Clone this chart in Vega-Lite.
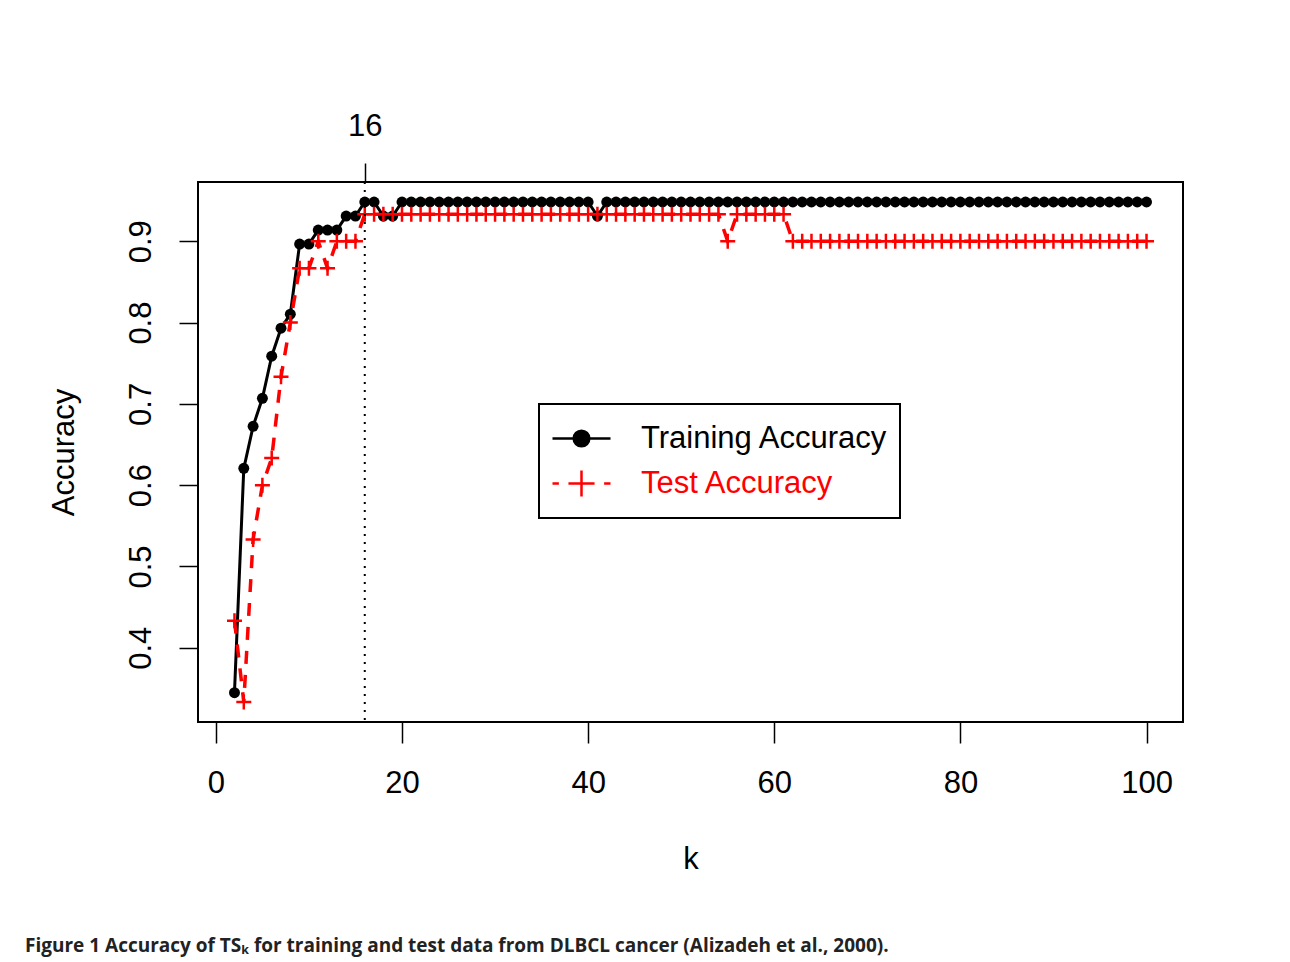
{
  "$schema": "https://vega.github.io/schema/vega-lite/v6.json",
  "width": 985,
  "height": 540,
  "autosize": {"type": "none"},
  "padding": {"left": 198, "top": 182, "right": 107, "bottom": 240},
  "background": "white",
  "config": {
    "font": "Liberation Sans",
    "view": {"stroke": "black", "strokeWidth": 2},
    "axis": {"grid": false, "domain": false, "tickColor": "black", "tickWidth": 1.5, "labelColor": "black", "titleColor": "black", "labelFontSize": 31, "titleFontSize": 31, "titleFontWeight": "normal", "labelFont": "Liberation Sans", "titleFont": "Liberation Sans"}
  },
  "title": {"text": "Figure 1 Accuracy of TSₖ for training and test data from DLBCL cancer (Alizadeh et al., 2000).", "orient": "bottom", "anchor": "start", "frame": "group", "dx": -173, "offset": 63, "fontSize": 19, "font": "Open Sans", "fontWeight": "bold", "color": "#222222"},
  "data": {"values": [
    {"k":2,"train":0.3448,"test":0.4333},
    {"k":3,"train":0.6207,"test":0.3333},
    {"k":4,"train":0.6724,"test":0.5333},
    {"k":5,"train":0.7069,"test":0.6},
    {"k":6,"train":0.7586,"test":0.6333},
    {"k":7,"train":0.7931,"test":0.7333},
    {"k":8,"train":0.8103,"test":0.8},
    {"k":9,"train":0.8966,"test":0.8667},
    {"k":10,"train":0.8966,"test":0.8667},
    {"k":11,"train":0.9138,"test":0.9},
    {"k":12,"train":0.9138,"test":0.8667},
    {"k":13,"train":0.9138,"test":0.9},
    {"k":14,"train":0.931,"test":0.9},
    {"k":15,"train":0.931,"test":0.9},
    {"k":16,"train":0.9483,"test":0.9333},
    {"k":17,"train":0.9483,"test":0.9333},
    {"k":18,"train":0.931,"test":0.9333},
    {"k":19,"train":0.931,"test":0.9333},
    {"k":20,"train":0.9483,"test":0.9333},
    {"k":21,"train":0.9483,"test":0.9333},
    {"k":22,"train":0.9483,"test":0.9333},
    {"k":23,"train":0.9483,"test":0.9333},
    {"k":24,"train":0.9483,"test":0.9333},
    {"k":25,"train":0.9483,"test":0.9333},
    {"k":26,"train":0.9483,"test":0.9333},
    {"k":27,"train":0.9483,"test":0.9333},
    {"k":28,"train":0.9483,"test":0.9333},
    {"k":29,"train":0.9483,"test":0.9333},
    {"k":30,"train":0.9483,"test":0.9333},
    {"k":31,"train":0.9483,"test":0.9333},
    {"k":32,"train":0.9483,"test":0.9333},
    {"k":33,"train":0.9483,"test":0.9333},
    {"k":34,"train":0.9483,"test":0.9333},
    {"k":35,"train":0.9483,"test":0.9333},
    {"k":36,"train":0.9483,"test":0.9333},
    {"k":37,"train":0.9483,"test":0.9333},
    {"k":38,"train":0.9483,"test":0.9333},
    {"k":39,"train":0.9483,"test":0.9333},
    {"k":40,"train":0.9483,"test":0.9333},
    {"k":41,"train":0.931,"test":0.9333},
    {"k":42,"train":0.9483,"test":0.9333},
    {"k":43,"train":0.9483,"test":0.9333},
    {"k":44,"train":0.9483,"test":0.9333},
    {"k":45,"train":0.9483,"test":0.9333},
    {"k":46,"train":0.9483,"test":0.9333},
    {"k":47,"train":0.9483,"test":0.9333},
    {"k":48,"train":0.9483,"test":0.9333},
    {"k":49,"train":0.9483,"test":0.9333},
    {"k":50,"train":0.9483,"test":0.9333},
    {"k":51,"train":0.9483,"test":0.9333},
    {"k":52,"train":0.9483,"test":0.9333},
    {"k":53,"train":0.9483,"test":0.9333},
    {"k":54,"train":0.9483,"test":0.9333},
    {"k":55,"train":0.9483,"test":0.9},
    {"k":56,"train":0.9483,"test":0.9333},
    {"k":57,"train":0.9483,"test":0.9333},
    {"k":58,"train":0.9483,"test":0.9333},
    {"k":59,"train":0.9483,"test":0.9333},
    {"k":60,"train":0.9483,"test":0.9333},
    {"k":61,"train":0.9483,"test":0.9333},
    {"k":62,"train":0.9483,"test":0.9},
    {"k":63,"train":0.9483,"test":0.9},
    {"k":64,"train":0.9483,"test":0.9},
    {"k":65,"train":0.9483,"test":0.9},
    {"k":66,"train":0.9483,"test":0.9},
    {"k":67,"train":0.9483,"test":0.9},
    {"k":68,"train":0.9483,"test":0.9},
    {"k":69,"train":0.9483,"test":0.9},
    {"k":70,"train":0.9483,"test":0.9},
    {"k":71,"train":0.9483,"test":0.9},
    {"k":72,"train":0.9483,"test":0.9},
    {"k":73,"train":0.9483,"test":0.9},
    {"k":74,"train":0.9483,"test":0.9},
    {"k":75,"train":0.9483,"test":0.9},
    {"k":76,"train":0.9483,"test":0.9},
    {"k":77,"train":0.9483,"test":0.9},
    {"k":78,"train":0.9483,"test":0.9},
    {"k":79,"train":0.9483,"test":0.9},
    {"k":80,"train":0.9483,"test":0.9},
    {"k":81,"train":0.9483,"test":0.9},
    {"k":82,"train":0.9483,"test":0.9},
    {"k":83,"train":0.9483,"test":0.9},
    {"k":84,"train":0.9483,"test":0.9},
    {"k":85,"train":0.9483,"test":0.9},
    {"k":86,"train":0.9483,"test":0.9},
    {"k":87,"train":0.9483,"test":0.9},
    {"k":88,"train":0.9483,"test":0.9},
    {"k":89,"train":0.9483,"test":0.9},
    {"k":90,"train":0.9483,"test":0.9},
    {"k":91,"train":0.9483,"test":0.9},
    {"k":92,"train":0.9483,"test":0.9},
    {"k":93,"train":0.9483,"test":0.9},
    {"k":94,"train":0.9483,"test":0.9},
    {"k":95,"train":0.9483,"test":0.9},
    {"k":96,"train":0.9483,"test":0.9},
    {"k":97,"train":0.9483,"test":0.9},
    {"k":98,"train":0.9483,"test":0.9},
    {"k":99,"train":0.9483,"test":0.9},
    {"k":100,"train":0.9483,"test":0.9}
  ]},
  "transform": [{"fold": ["train", "test"], "as": ["series", "acc"]}],
  "resolve": {"axis": {"x": "independent"}},
  "layer": [
    {
      "transform": [{"filter": "datum.series === 'train'"}],
      "mark": {"type": "line", "strokeWidth": 3},
      "encoding": {
        "x": {"field": "k", "type": "quantitative", "scale": {"domain": [-1.92, 103.92], "nice": false, "zero": false},
          "axis": {"orient": "bottom", "values": [0, 20, 40, 60, 80, 100], "tickSize": 21, "labelPadding": 25, "title": "k", "titlePadding": 46}},
        "y": {"field": "acc", "type": "quantitative", "scale": {"domain": [0.3087, 0.9729], "nice": false, "zero": false},
          "axis": {"values": [0.4, 0.5, 0.6, 0.7, 0.8, 0.9], "format": ".1f", "tickSize": 19, "labelAngle": -90, "labelAlign": "center", "labelBaseline": "bottom", "labelPadding": 22, "title": "Accuracy", "titlePadding": 45}},
        "color": {"field": "series", "type": "nominal",
          "scale": {"domain": ["train", "test"], "range": ["black", "red"]},
          "legend": {
            "orient": "none", "legendX": 341, "legendY": 222, "title": null,
            "strokeColor": "black", "fillColor": "white", "padding": 12,
            "labelFontSize": 31, "labelFont": "Liberation Sans", "labelOffset": 29, "labelLimit": 0,
            "symbolSize": 3364, "rowPadding": 0, "clipHeight": 45,
            "labelExpr": "datum.value === 'train' ? 'Training Accuracy' : 'Test Accuracy'",
            "encode": {
              "symbols": {"update": {
                "shape": {"signal": "datum.value === 'train' ? 'M-1,0H1M0.27,0A0.27,0.27 0 1 1 -0.27,0A0.27,0.27 0 1 1 0.27,0Z' : 'M-1,0H-0.78M-0.45,0H0.45M0,-0.45V0.45M0.78,0H1'"},
                "fill": {"signal": "datum.value === 'train' ? 'black' : 'transparent'"},
                "stroke": {"signal": "datum.value === 'train' ? 'black' : 'red'"},
                "strokeWidth": {"value": 2.5},
                "strokeDash": {"value": []},
                "opacity": {"value": 1}
              }},
              "labels": {"update": {"fill": {"signal": "datum.value === 'train' ? 'black' : 'red'"}}},
              "legend": {"update": {"strokeWidth": {"value": 2}}}
            }
          }}
      }
    },
    {
      "transform": [{"filter": "datum.series === 'test'"}],
      "mark": {"type": "line", "strokeWidth": 3.5, "strokeDash": [13, 11]},
      "encoding": {
        "x": {"field": "k", "type": "quantitative", "axis": null},
        "y": {"field": "acc", "type": "quantitative"},
        "color": {"field": "series", "type": "nominal"}
      }
    },
    {
      "transform": [{"filter": "datum.series === 'train'"}],
      "mark": {"type": "point", "shape": "circle", "filled": true, "size": 120, "color": "black", "opacity": 1},
      "encoding": {
        "x": {"field": "k", "type": "quantitative", "axis": null},
        "y": {"field": "acc", "type": "quantitative"}
      }
    },
    {
      "transform": [{"filter": "datum.series === 'test'"}],
      "mark": {"type": "point", "shape": "M-1,0H1M0,-1V1", "filled": false, "size": 225, "color": "red", "strokeWidth": 2.5, "opacity": 1},
      "encoding": {
        "x": {"field": "k", "type": "quantitative", "axis": null},
        "y": {"field": "acc", "type": "quantitative"}
      }
    },
    {
      "data": {"values": [{"k": 16}]},
      "mark": {"type": "rule", "color": "black", "strokeWidth": 2, "strokeDash": [2, 6]},
      "encoding": {
        "x": {"field": "k", "type": "quantitative", "axis": {"orient": "top", "values": [16], "tickSize": 19, "labelPadding": 21, "title": null}}
      }
    }
  ]
}
